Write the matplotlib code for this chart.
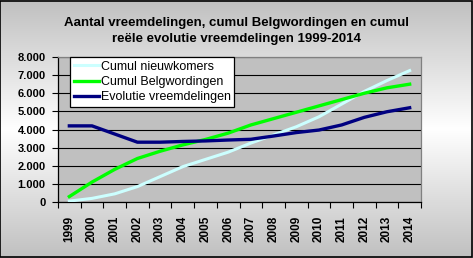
import matplotlib
matplotlib.use("Agg")
import matplotlib.pyplot as plt
import numpy as np
from matplotlib.colors import LinearSegmentedColormap
from matplotlib.patches import Rectangle

plt.rcParams["font.family"] = ["Liberation Sans", "DejaVu Sans"]

years = [str(y) for y in range(1999, 2015)]
nieuwkomers = [50, 200, 450, 850, 1400, 1950, 2350, 2750, 3250, 3700, 4150, 4700, 5400, 6100, 6700, 7250]
belgwordingen = [300, 1100, 1800, 2400, 2800, 3150, 3450, 3800, 4250, 4600, 4950, 5300, 5650, 6000, 6300, 6500]
evolutie = [4200, 4200, 3750, 3300, 3300, 3340, 3370, 3420, 3460, 3640, 3830, 3970, 4250, 4670, 4980, 5200]
y_ticks = [0, 1000, 2000, 3000, 4000, 5000, 6000, 7000, 8000]

title = "Aantal vreemdelingen, cumul Belgwordingen en cumul\nreële evolutie vreemdelingen 1999-2014"

fig = plt.figure(figsize=(4.73, 2.58), dpi=100)

# vertical grey-white-grey background
bg = fig.add_axes([0, 0, 1, 1], zorder=-10)
grad_cmap = LinearSegmentedColormap.from_list("bg", ["#C0C0C0", "#FFFFFF", "#C0C0C0"])
bg.imshow(np.linspace(0, 1, 256).reshape(-1, 1), aspect="auto", cmap=grad_cmap,
          extent=[0, 1, 0, 1])
bg.set_axis_off()
fig.patches.append(Rectangle((0.001, 0.002), 0.997, 0.996, transform=fig.transFigure,
                             fill=False, edgecolor="black", linewidth=1.2))

ax = fig.add_axes([58 / 473, 1 - 202 / 258, 363 / 473, 145 / 258])
ax.set_facecolor("#C0C0C0")

x = np.arange(len(years))
ax.plot(x, nieuwkomers, color="#CCFFFF", lw=2.2, label="Cumul nieuwkomers", zorder=3)
ax.plot(x, belgwordingen, color="#00FF00", lw=2.4, label="Cumul Belgwordingen", zorder=3)
ax.plot(x, evolutie, color="#000080", lw=2.4, label="Evolutie vreemdelingen", zorder=3)

ax.set_xlim(-0.5, len(years) - 0.5)
ax.set_ylim(0, 8000)
ax.set_yticks(y_ticks)
ax.set_yticklabels([f"{v:,}".replace(",", ".") for v in y_ticks],
                   fontsize=8, fontweight="bold")
ax.grid(axis="y", color="black", linewidth=0.8)
ax.set_axisbelow(True)

ax.set_xticks(np.arange(-0.5, len(years), 1.0))
ax.set_xticklabels([])
ax.set_xticks(x, minor=True)
ax.set_xticklabels(years, minor=True, rotation=90, fontsize=8.5, fontweight="bold")
ax.tick_params(axis="x", which="major", length=4, width=0.8, color="black", direction="out")
ax.tick_params(axis="x", which="minor", length=0, pad=10)
ax.tick_params(axis="y", length=4, width=0.8, color="black", pad=5)

for side in ("left", "bottom"):
    ax.spines[side].set_color("black")
    ax.spines[side].set_linewidth(0.9)
for side in ("top", "right"):
    ax.spines[side].set_color("#808080")
    ax.spines[side].set_linewidth(0.9)

leg = ax.legend(loc="upper left", bbox_to_anchor=(0.033, 1.0), borderaxespad=0,
                fontsize=9, frameon=True, fancybox=False, framealpha=1,
                edgecolor="black", handlelength=2.0, handletextpad=0.15,
                labelspacing=0.25, borderpad=0.3)
leg.get_frame().set_linewidth(0.9)

fig.text(0.5, 1 - 31 / 258, title, ha="center", va="center", fontsize=9.5,
         fontweight="bold", linespacing=1.45)

fig.savefig("out.png", dpi=100)
